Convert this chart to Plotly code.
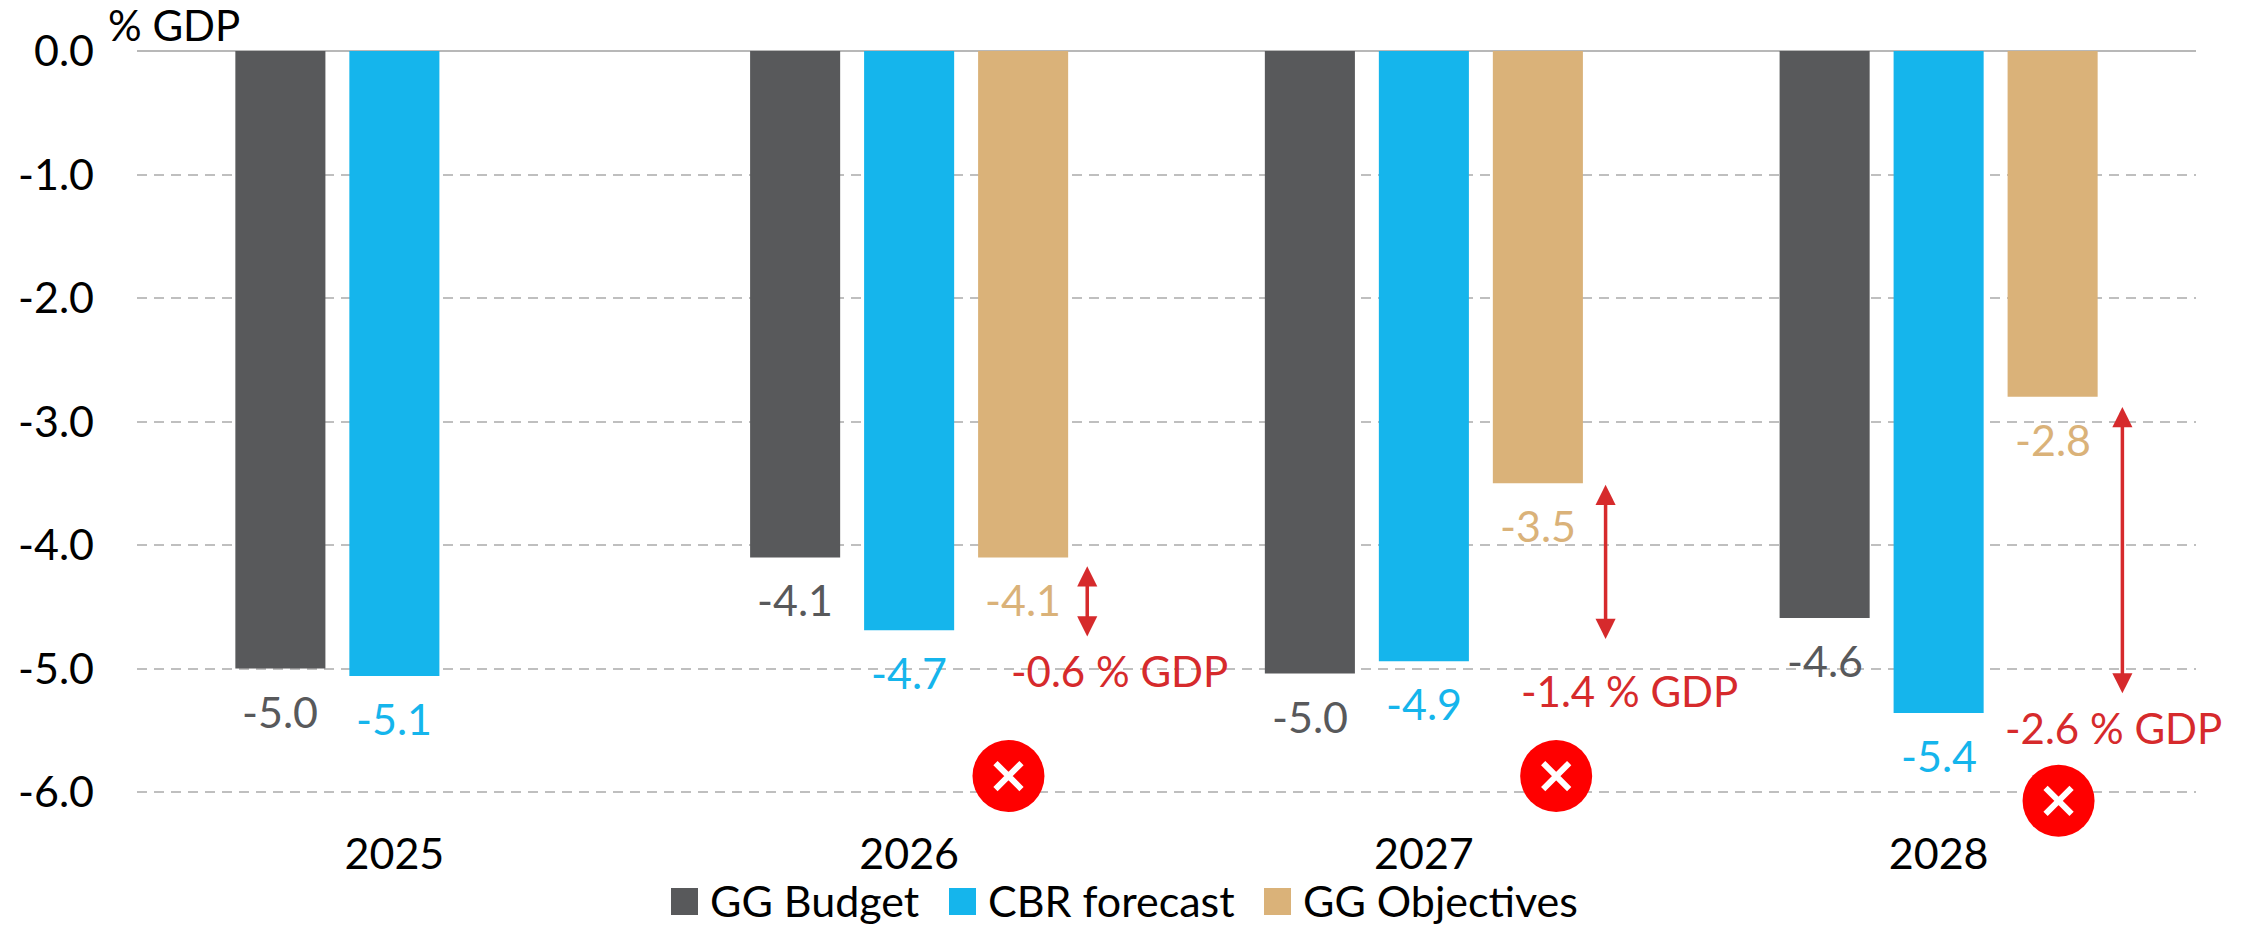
import plotly.graph_objects as go

years = ["2025", "2026", "2027", "2028"]
gg_budget = [-5.0, -4.1, -5.04, -4.59]
cbr_forecast = [-5.06, -4.69, -4.94, -5.36]
gg_objectives = [None, -4.1, -3.5, -2.8]
budget_labels = ["-5.0", "-4.1", "-5.0", "-4.6"]
cbr_labels = ["-5.1", "-4.7", "-4.9", "-5.4"]
objective_labels = [None, "-4.1", "-3.5", "-2.8"]
y_ticks = [0, -1, -2, -3, -4, -5, -6]
y_tick_labels = ["0.0", "-1.0", "-2.0", "-3.0", "-4.0", "-5.0", "-6.0"]

gap_labels = ["-0.6 % GDP", "-1.4 % GDP", "-2.6 % GDP"]
gap_label_x = [1.408, 2.40, 3.34]
gap_label_y = [-5.02, -5.18, -5.48]
arrow_x = [1.346, 2.353, 3.357]
arrow_top = [-4.16, -3.5, -2.87]
arrow_bottom = [-4.74, -4.76, -5.2]
cross_x = [1.193, 2.257, 3.233]
cross_y = [-5.87, -5.87, -6.07]

DARK, BLUE, TAN, RED = "#58595b", "#15b5ec", "#dab279", "#d62a2c"
FONT = "Lato"
SIZE = 43
OFFSET = 114 / 514.75

fig = go.Figure()
x = list(range(len(years)))
series = [
    ("GG Budget", gg_budget, budget_labels, DARK, -OFFSET),
    ("CBR forecast", cbr_forecast, cbr_labels, BLUE, 0),
    ("GG Objectives", gg_objectives, objective_labels, TAN, OFFSET),
]
for name, vals, labels, color, off in series:
    fig.add_bar(x=x, y=vals, name=name, marker=dict(color=color, line=dict(width=0)), showlegend=False)
    for xi, v, t in zip(x, vals, labels):
        if v is None:
            continue
        fig.add_annotation(x=xi + off, y=v, text=t, showarrow=False, yanchor="top", yshift=-15,
                           font=dict(family=FONT, size=SIZE, color=color))

for ax_, top, bot in zip(arrow_x, arrow_top, arrow_bottom):
    fig.add_annotation(x=ax_, y=bot, ax=ax_, ay=top, xref="x", yref="y", axref="x", ayref="y",
                       text="", showarrow=True, arrowside="end+start", arrowhead=2, arrowsize=1.15,
                       arrowwidth=3.5, arrowcolor=RED, standoff=0, startstandoff=0, startarrowhead=2, startarrowsize=1.15)
for t, gx, gy in zip(gap_labels, gap_label_x, gap_label_y):
    fig.add_annotation(x=gx, y=gy, text=t, showarrow=False, font=dict(family=FONT, size=SIZE - 1, color=RED))

fig.add_scatter(x=cross_x, y=cross_y, mode="markers", showlegend=False, cliponaxis=False, hoverinfo="skip",
                marker=dict(symbol="circle", size=72, color="#ff0000", line=dict(width=0)))
fig.add_scatter(x=cross_x, y=cross_y, mode="markers", showlegend=False, cliponaxis=False, hoverinfo="skip",
                marker=dict(symbol="x-thin", size=26, color="white", line=dict(width=6, color="white")))

# Legend row
legend_items = [("GG Budget", DARK, 671), ("CBR forecast", BLUE, 949), ("GG Objectives", TAN, 1264)]
for name, color, px in legend_items:
    fig.add_shape(type="rect", xref="paper", yref="paper",
                  x0=(px - 137) / 2059, x1=(px + 27 - 137) / 2059,
                  y0=-(888 - 823) / 772, y1=-(915 - 823) / 772,
                  fillcolor=color, line=dict(width=0))
    fig.add_annotation(xref="paper", yref="paper", x=(px + 37 - 137) / 2059, y=-(901 - 823) / 772,
                       xanchor="left", yanchor="middle", text=name, showarrow=False,
                       font=dict(family=FONT, size=SIZE, color="black"))

fig.add_annotation(xref="paper", yref="paper", x=(106 - 137) / 2059, y=1 + (51 - 25) / 772,
                   xanchor="left", yanchor="middle", text="% GDP", showarrow=False,
                   font=dict(family=FONT, size=SIZE - 1, color="black"))

fig.update_layout(
    width=2242, height=925, autosize=False,
    margin=dict(l=137, r=46, t=51, b=102, pad=0),
    plot_bgcolor="white", paper_bgcolor="white",
    barmode="group", bargap=0.3356, bargroupgap=0.21,
    font=dict(family=FONT, size=SIZE, color="black"),
)
fig.update_xaxes(range=[-0.5, 3.5], tickvals=x, ticktext=years, showgrid=False, zeroline=False, showline=False,
                 ticks="", ticklabelstandoff=2, tickfont=dict(family=FONT, size=SIZE, color="black"))
fig.update_yaxes(range=[-6.25, 0], tickvals=y_ticks, ticktext=y_tick_labels, showgrid=True,
                 griddash="10px,7px", gridcolor="#bfbfbf", gridwidth=2,
                 zeroline=True, zerolinecolor="#b8b8b8", zerolinewidth=2, showline=False,
                 ticks="", ticklabelstandoff=42, tickfont=dict(family=FONT, size=SIZE, color="black"))

# Drop the page's default body margin so the figure fills the whole window.
fig.write_html("out.html", config={"displayModeBar": False},
               post_script="document.body.style.margin='0';document.documentElement.style.overflow='hidden';")
